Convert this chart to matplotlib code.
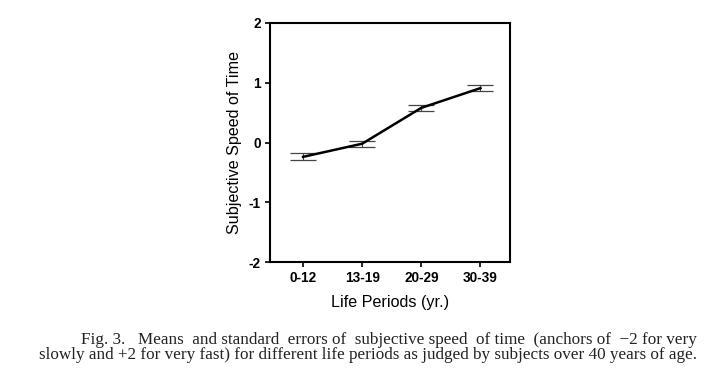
import numpy as np
import matplotlib.pyplot as plt

plt.rcParams['axes.unicode_minus'] = False

# data
periods = ["0-12", "13-19", "20-29", "30-39"]
means = [-0.24, -0.02, 0.58, 0.91]
errors = [0.06, 0.05, 0.05, 0.05]

caption1 = "Fig. 3.   Means  and standard  errors of  subjective speed  of time  (anchors of  \u22122 for very"
caption2 = "slowly and +2 for very fast) for different life periods as judged by subjects over 40 years of age."

fig = plt.figure(figsize=(7.2, 3.76), dpi=100)
ax = fig.add_axes([270 / 720, 1 - 262 / 376, 240 / 720, 239 / 376])

x = np.arange(1, len(periods) + 1)
ax.errorbar(x, means, yerr=errors, color="black", linewidth=1.8,
            ecolor="#444444", elinewidth=0.8, capsize=9.5, capthick=0.9)

ax.set_xlim(0.44, 4.5)
ax.set_ylim(-2, 2)
ax.set_xticks(x)
ax.set_xticklabels(periods)
ax.set_yticks([-2, -1, 0, 1, 2])
for lab in ax.get_xticklabels() + ax.get_yticklabels():
    lab.set_fontfamily("Liberation Sans")
    lab.set_fontweight("bold")
    lab.set_fontsize(9.8)
ax.tick_params(direction="out", length=3.5, width=1.2, pad=3)
for s in ax.spines.values():
    s.set_linewidth(1.5)

ax.set_ylabel("Subjective Speed of Time", family="Liberation Sans", fontsize=11.6, labelpad=5)
ax.set_xlabel("Life Periods (yr.)", family="Liberation Sans", fontsize=11.6, labelpad=7)

# caption (justified to the right edge)
fig.text(697 / 720, 1 - 340 / 376, caption1,
         ha="right", va="center", family="Liberation Serif", fontsize=12.3, color="#222222")
fig.text(697 / 720, 1 - 355 / 376, caption2,
         ha="right", va="center", family="Liberation Serif", fontsize=12.3, color="#222222")

fig.savefig("out.png", dpi=100)
